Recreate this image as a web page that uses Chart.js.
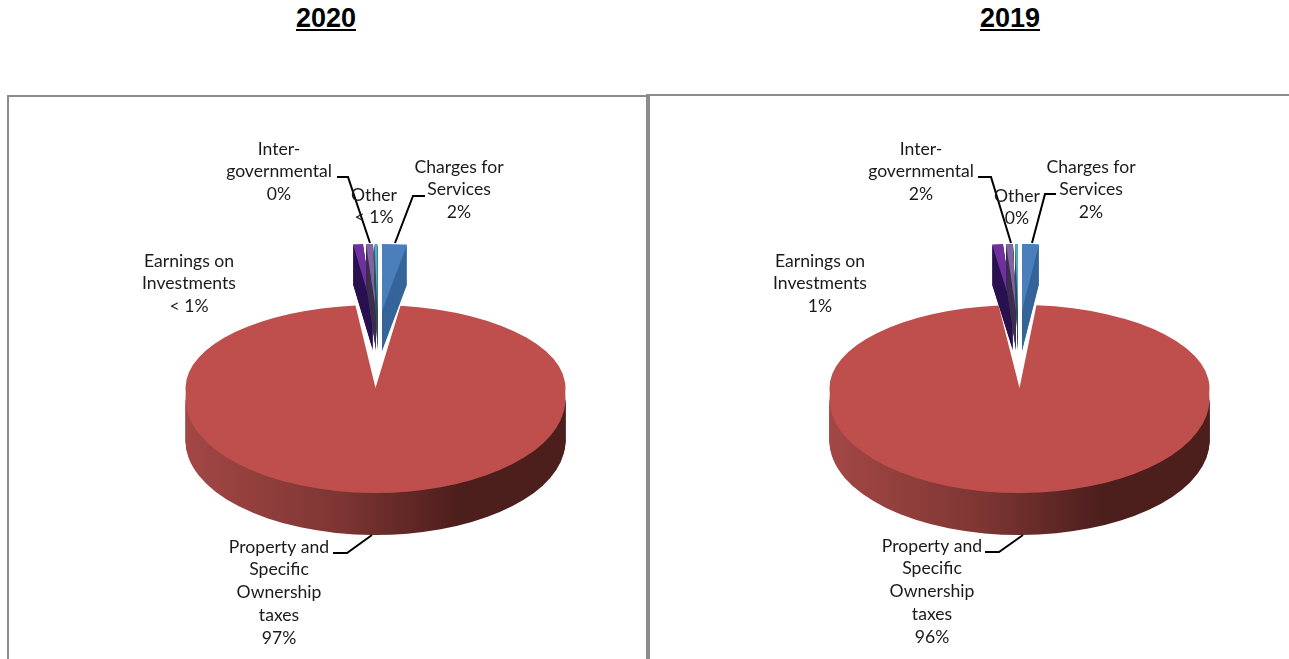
<!DOCTYPE html>
<html>
<head>
<meta charset="utf-8">
<script src="https://cdn.jsdelivr.net/npm/chart.js@4"></script>
<style>
  body { margin: 0; background: #fff; width: 1289px; height: 659px; overflow: hidden; position: relative; }
  canvas { position: absolute; left: 0; top: 0; }
  .year { position: absolute; top: 3px; width: 120px; text-align: center; font: bold 27px "Liberation Sans", Arial, sans-serif; text-decoration: underline; color: #000; }
  .box { position: absolute; border: 2px solid #8c8c8c; border-bottom: none; box-sizing: border-box; height: 570px; }
</style>
</head>
<body>
<div class="box" style="left:7px;top:95px;width:639px;border-right:none"></div>
<div class="box" style="left:646px;top:94px;width:650px;border-left-width:4px"></div>
<div class="year" style="left:266px">2020</div>
<div class="year" style="left:950px">2019</div>
<canvas id="chart2020" width="1289" height="659"></canvas>
<canvas id="chart2019" width="1289" height="659"></canvas>
<script>
var categories = ["Charges for Services", "Property and Specific Ownership taxes", "Earnings on Investments", "Inter-governmental", "Other"];
var values2020 = [2.1, 96.22, 0.84, 0.59, 0.25];
var values2019 = [1.42, 96.82, 0.92, 0.59, 0.25];
var shown2020 = ["2%", "97%", "< 1%", "0%", "< 1%"];
var shown2019 = ["2%", "96%", "1%", "2%", "0%"];
var labelLines = [["Charges for", "Services"], ["Property and", "Specific", "Ownership", "taxes"], ["Earnings on", "Investments"], ["Inter-", "governmental"], ["Other"]];

var topColors = ["#4a7fbb", "#bf4f4d", "#7030a0", "#8064a2", "#4bacc6"];
var sideColors = ["#35659a", null, "#2a1250", "#3e3050", "#33505c"];

var layout2020 = {
  cx: 375.5,
  shiftX: [6.5, 0, -2.5, 0.5, 2],
  labelX: [459, 279, 189, 279, 374],
  labelY: [167, 547, 261, 149, 195],
  leaders: [[[425, 196], [413, 196], [395, 243]], [[333, 553], [347, 553], [372, 535]], [[337, 177], [348, 177], [370, 243]]]
};
var layout2019 = {
  cx: 1019.5,
  shiftX: [2.5, 0, -6.5, -3.5, -1.5],
  labelX: [1091, 932, 820, 921, 1017],
  labelY: [167, 546, 261, 149, 196],
  leaders: [[[1056, 194], [1045, 194], [1032, 243]], [[985, 552], [999, 552], [1023, 535]], [[978, 177], [991, 177], [1011, 243]]]
};

// draws an arc with another fill, the element itself keeps its options
function paintArc(ctx, el, fill) {
  var o = Object.create(el.options, { backgroundColor: { value: fill } });
  Object.create(el, { options: { value: o } }).draw(ctx);
}

function placeArc(ctx, el, x, y, ky, fill, clipTop, clipBottom) {
  ctx.save();
  if (clipTop !== undefined) {
    ctx.beginPath();
    ctx.rect(0, clipTop, 1289, clipBottom - clipTop);
    ctx.clip();
  }
  ctx.translate(x, y);
  ctx.scale(1, ky);
  ctx.translate(-el.x, -el.y);
  paintArc(ctx, el, fill);
  ctx.restore();
}

// flat Chart.js pie turned into the tilted 3D pie of the picture
var tiltedPie = {
  id: "tiltedPie",
  beforeDatasetsDraw: function (chart, args, opts) {
    var ctx = chart.ctx;
    var arcs = chart.getDatasetMeta(0).data;
    var cx = opts.layout.cx;
    var r = 190;

    // big slice: side wall first, the gradient lives in the arc's own coordinates
    var big = arcs[1];
    var wall = ctx.createLinearGradient(big.x - r, 0, big.x + r, 0);
    wall.addColorStop(0, "#a34745");
    wall.addColorStop(0.4, "#7e3633");
    wall.addColorStop(0.72, "#4c1e1c");
    wall.addColorStop(1, "#4c1f1d");
    for (var d = 42; d > 0; d--) {
      placeArc(ctx, big, cx, 399 + d, 94 / r, wall, 399 + d, 659);
    }
    placeArc(ctx, big, cx, 399, 94 / r, big.options.backgroundColor, 388, 659);
    placeArc(ctx, big, cx, 388, 105 / r, big.options.backgroundColor, 388, 400);
    placeArc(ctx, big, cx, 388, 83 / r, big.options.backgroundColor, 0, 388);

    // exploded small slices, left to right
    [2, 3, 4, 0].forEach(function (i) {
      var x = cx + opts.layout.shiftX[i];
      for (var d = 40; d > 0; d--) {
        placeArc(ctx, arcs[i], x, 311 + d, 67 / r, sideColors[i]);
      }
      placeArc(ctx, arcs[i], x, 311, 67 / r, topColors[i]);
    });
    return false;
  },
  afterDraw: function (chart, args, opts) {
    var ctx = chart.ctx;
    var lay = opts.layout;
    ctx.save();
    ctx.strokeStyle = "#000";
    ctx.lineWidth = 2;
    lay.leaders.forEach(function (pts) {
      ctx.beginPath();
      pts.forEach(function (p, j) {
        if (j === 0) ctx.moveTo(p[0], p[1]); else ctx.lineTo(p[0], p[1]);
      });
      ctx.stroke();
    });
    ctx.fillStyle = "#1a1a1a";
    ctx.font = "17.6px Lato";
    ctx.textAlign = "center";
    ctx.textBaseline = "middle";
    labelLines.forEach(function (lines, i) {
      var all = lines.concat(opts.shown[i]);
      all.forEach(function (t, j) {
        ctx.fillText(t, lay.labelX[i], lay.labelY[i] + j * 22.8);
      });
    });
    ctx.restore();
  }
};

function makePie(id, values, shown, lay) {
  var ctx = document.getElementById(id).getContext("2d");
  return new Chart(ctx, {
    type: "pie",
    data: {
      labels: categories,
      datasets: [{ data: values, backgroundColor: topColors, borderWidth: 0 }]
    },
    options: {
      responsive: false,
      animation: false,
      radius: 190,
      plugins: {
        legend: { display: false },
        tooltip: { enabled: false },
        tiltedPie: { layout: lay, shown: shown }
      }
    },
    plugins: [tiltedPie]
  });
}

makePie("chart2020", values2020, shown2020, layout2020);
makePie("chart2019", values2019, shown2019, layout2019);
</script>
</body>
</html>
